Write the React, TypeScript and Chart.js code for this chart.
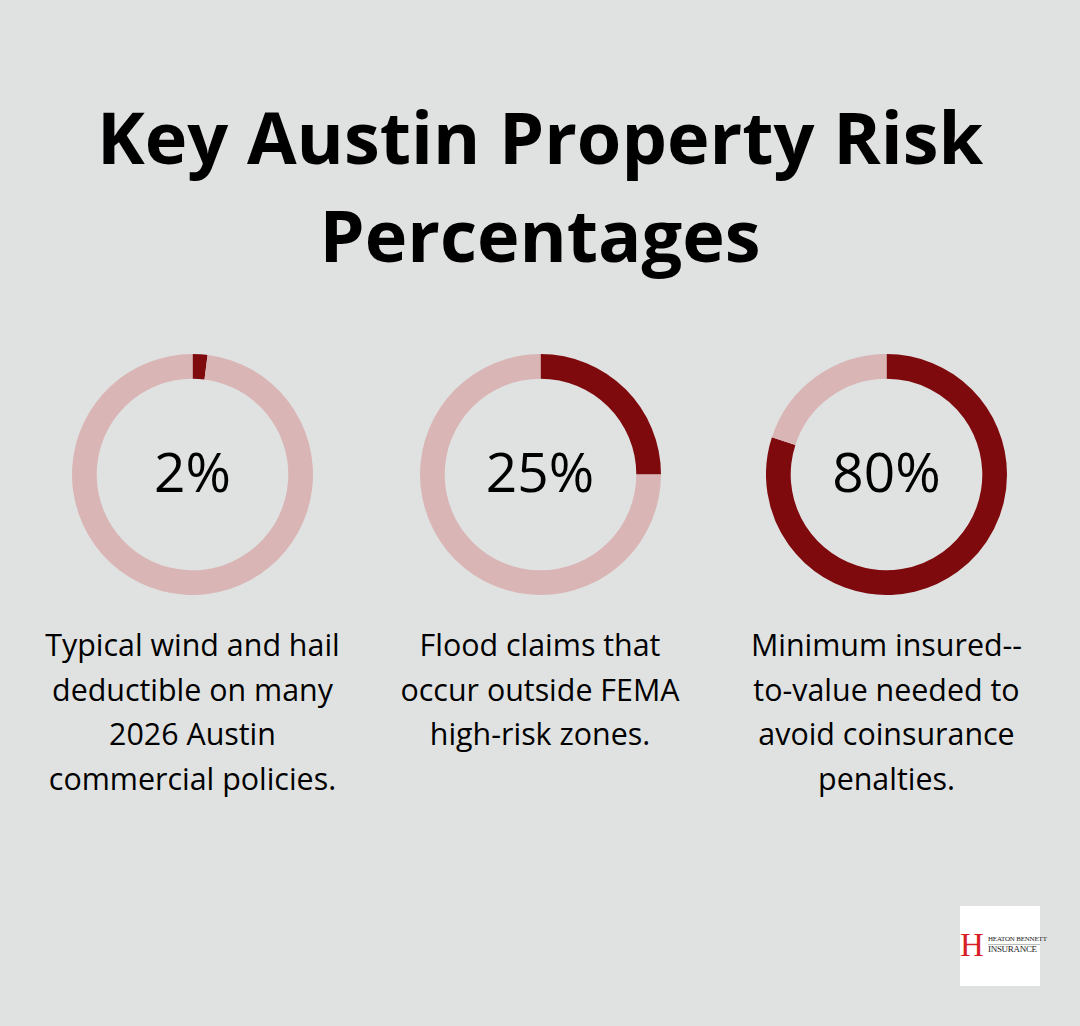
import React, { useEffect, useRef } from "react";
import { Chart, registerables } from "chart.js";

Chart.register(...registerables);

const titleLines = ["Key Austin Property Risk", "Percentages"];
const categories = [
  "Typical wind and hail deductible on many 2026 Austin commercial policies.",
  "Flood claims that occur outside FEMA high-risk zones.",
  "Minimum insured-- to-value needed to avoid coinsurance penalties.",
];
const categoryLines = [
  ["Typical wind and hail", "deductible on many", "2026 Austin", "commercial policies."],
  ["Flood claims that", "occur outside FEMA", "high-risk zones."],
  ["Minimum insured--", "to-value needed to", "avoid coinsurance", "penalties."],
];
const values = [2, 25, 80];
const centerLabels = ["2%", "25%", "80%"];

const DARK = "#7f0a0e";
const LIGHT = "#d9b5b6";
const BG = "#e0e2e1";
const centersX = [192.5, 540, 886.5];

function Donut({ value, idx }: { value: number; idx: number }) {
  const ref = useRef<HTMLCanvasElement | null>(null);
  useEffect(() => {
    if (!ref.current) return;
    const chart = new Chart(ref.current, {
      type: "doughnut",
      data: {
        labels: [categories[idx], "Remainder"],
        datasets: [
          {
            data: [value, 100 - value],
            backgroundColor: [DARK, LIGHT],
            borderWidth: 0,
          },
        ],
      },
      options: {
        responsive: false,
        animation: false,
        cutout: "79.5%",
        layout: { padding: 0 },
        plugins: { legend: { display: false }, tooltip: { enabled: false } },
      },
    });
    return () => chart.destroy();
  }, [value, idx]);
  return (
    <canvas
      ref={ref}
      width={241}
      height={241}
      style={{ position: "absolute", left: centersX[idx] - 120.5, top: 354, width: 241, height: 241 }}
    />
  );
}

export default function App() {
  return (
    <div
      style={{
        position: "fixed",
        left: 0,
        top: 0,
        width: 1080,
        height: 1026,
        background: BG,
        fontFamily: "'Open Sans', sans-serif",
        color: "#000",
        overflow: "hidden",
      }}
    >
      {titleLines.map((t, i) => (
        <div
          key={t}
          style={{
            position: "absolute",
            left: 0,
            width: 1080,
            top: 87 + i * 98,
            height: 98,
            lineHeight: "98px",
            textAlign: "center",
            fontWeight: 700,
            fontSize: 72,
            whiteSpace: "nowrap",
          }}
        >
          {t}
        </div>
      ))}
      {values.map((v, i) => (
        <React.Fragment key={i}>
          <Donut value={v} idx={i} />
          <div
            style={{
              position: "absolute",
              left: centersX[i] - 100,
              width: 200,
              top: 430.5,
              height: 80,
              lineHeight: "80px",
              textAlign: "center",
              fontSize: 55,
            }}
          >
            {centerLabels[i]}
          </div>
          <div
            style={{
              position: "absolute",
              left: centersX[i] - 175,
              width: 350,
              top: 623,
              textAlign: "center",
              fontSize: 30.4,
              lineHeight: "44.5px",
              whiteSpace: "nowrap",
            }}
          >
            {categoryLines[i].map((l, j) => (
              <div key={j}>{l}</div>
            ))}
          </div>
        </React.Fragment>
      ))}
      <div
        style={{
          position: "absolute",
          left: 960,
          top: 906,
          width: 80,
          height: 80,
          background: "#ffffff",
          fontFamily: "'Liberation Serif', serif",
        }}
      >
        <div
          style={{
            position: "absolute",
            left: 0,
            top: 23,
            color: "#d71f26",
            fontSize: 33,
            lineHeight: "33px",
          }}
        >
          H
        </div>
        <div
          style={{
            position: "absolute",
            left: 28,
            top: 29.2,
            fontSize: 7,
            lineHeight: "8px",
            color: "#222",
            whiteSpace: "nowrap",
            letterSpacing: -0.2,
          }}
        >
          HEATON BENNETT
        </div>
        <div
          style={{
            position: "absolute",
            left: 28,
            top: 37.5,
            width: 52,
            height: 0,
            borderTop: "0.5px solid #bbb",
          }}
        />
        <div
          style={{
            position: "absolute",
            left: 28,
            top: 38.3,
            fontSize: 9,
            lineHeight: "10px",
            color: "#222",
            whiteSpace: "nowrap",
            letterSpacing: -0.3,
          }}
        >
          INSURANCE
        </div>
      </div>
    </div>
  );
}
